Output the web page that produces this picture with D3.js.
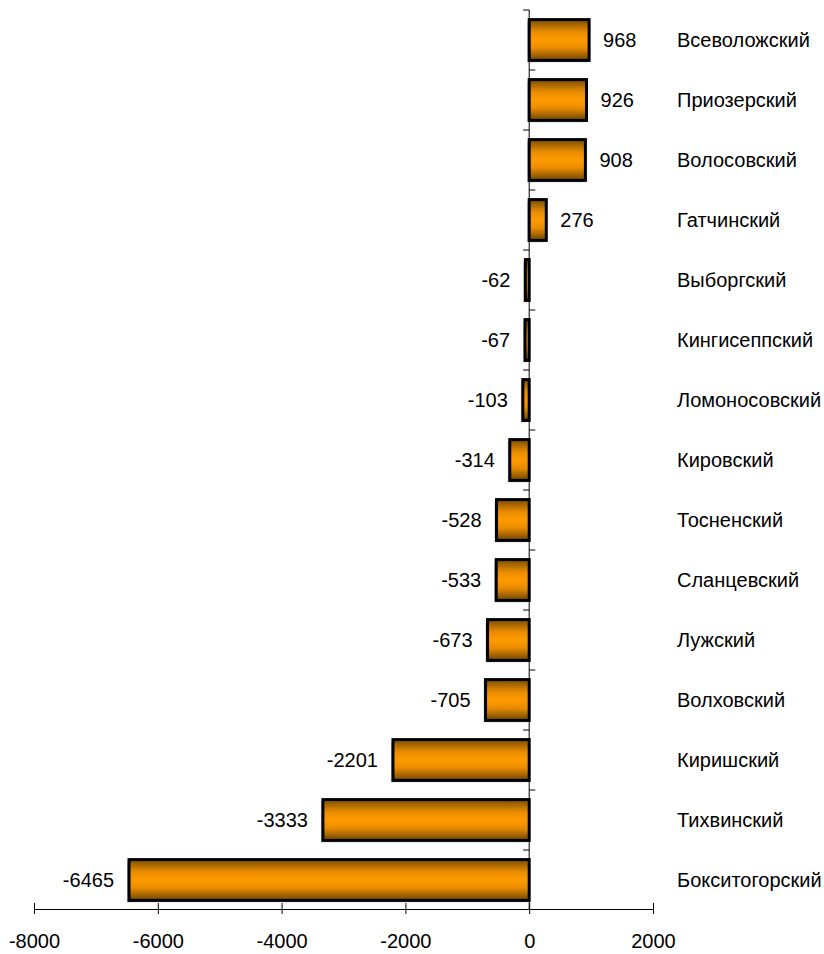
<!DOCTYPE html>
<html>
<head>
<meta charset="utf-8">
<script src="https://cdn.jsdelivr.net/npm/d3@7"></script>
<style>
  html, body { margin: 0; padding: 0; background: #fff; }
  svg { display: block; font-family: "Liberation Sans", Arial, sans-serif; }
</style>
</head>
<body>
<div id="chart"></div>
<script>
const districts = ['Всеволожский', 'Приозерский', 'Волосовский', 'Гатчинский', 'Выборгский',
    'Кингисеппский', 'Ломоносовский', 'Кировский', 'Тосненский', 'Сланцевский',
    'Лужский', 'Волховский', 'Киришский', 'Тихвинский', 'Бокситогорский'];
const values = [968, 926, 908, 276, -62, -67, -103, -314, -528, -533, -673, -705, -2201, -3333, -6465];
const xTicks = [-8000, -6000, -4000, -2000, 0, 2000];

const width = 824, height = 954;

const svg = d3.select('#chart').append('svg')
    .attr('width', width).attr('height', height);

// gradient: dark edges, bright orange in the middle
const grad = svg.append('defs').append('linearGradient')
    .attr('id', 'barGrad').attr('x1', 0).attr('y1', 0).attr('x2', 0).attr('y2', 1);
[[0, '#7a4c00'], [0.3, '#e88c00'], [0.5, '#ff9a00'], [0.7, '#e88c00'], [1, '#6e4400']]
    .forEach(([o, c]) => grad.append('stop').attr('offset', o).attr('stop-color', c));

const x = d3.scaleLinear().domain([-8000, 2000]).range([34, 653]);
const y = d3.scaleBand().domain(districts).range([10, 910]).paddingInner(0.32).paddingOuter(0.16);

const data = districts.map((d, i) => ({ name: d, value: values[i] }));

// shadows
svg.append('g').selectAll('rect').data(data).enter().append('rect')
    .attr('x', d => Math.min(x(0), x(d.value)) - 2)
    .attr('y', d => y(d.name) + 2)
    .attr('width', d => Math.abs(x(d.value) - x(0)))
    .attr('height', y.bandwidth())
    .attr('fill', '#c8c8c8');

// bars
svg.append('g').selectAll('rect').data(data).enter().append('rect')
    .attr('x', d => Math.min(x(0), x(d.value)))
    .attr('y', d => y(d.name))
    .attr('width', d => Math.abs(x(d.value) - x(0)))
    .attr('height', y.bandwidth())
    .attr('fill', 'url(#barGrad)')
    .attr('stroke', '#000').attr('stroke-width', 3);

// vertical category axis at zero
const axisY = svg.append('g');
axisY.append('line')
    .attr('x1', x(0)).attr('x2', x(0)).attr('y1', 10).attr('y2', 910)
    .attr('stroke', '#000').attr('stroke-width', 1);
const step = y.step();
d3.range(districts.length).forEach(i => {
    const yy = 10 + i * step;
    axisY.append('line')
        .attr('x1', x(0)).attr('x2', i % 2 === 0 ? x(0) - 6 : x(0) + 6)
        .attr('y1', yy).attr('y2', yy)
        .attr('stroke', '#000').attr('stroke-width', 1);
});

// bottom value axis
const axisX = svg.append('g').attr('transform', 'translate(0,909)')
    .call(d3.axisBottom(x).tickValues(xTicks).tickFormat(d => String(d))
        .tickSize(5).tickSizeOuter(0).tickPadding(20));
axisX.select('.domain').attr('stroke', '#000');
axisX.selectAll('.tick line').attr('y1', -6).attr('y2', 5).attr('stroke', '#000');
axisX.selectAll('.tick text')
    .attr('font-size', 20).attr('fill', '#000')
    .attr('font-family', '"Liberation Sans", Arial, sans-serif');

// value labels
svg.append('g').selectAll('text').data(data).enter().append('text')
    .attr('x', d => d.value >= 0 ? x(d.value) + 14 : x(d.value) - 15)
    .attr('y', d => y(d.name) + y.bandwidth() / 2)
    .attr('dy', '0.36em')
    .attr('text-anchor', d => d.value >= 0 ? 'start' : 'end')
    .attr('font-size', 20).attr('fill', '#000')
    .text(d => d.value);

// category labels on the right
svg.append('g').selectAll('text').data(data).enter().append('text')
    .attr('x', 677)
    .attr('y', d => y(d.name) + y.bandwidth() / 2)
    .attr('dy', '0.36em')
    .attr('font-size', 20).attr('fill', '#000')
    .text(d => d.name);
</script>
</body>
</html>
